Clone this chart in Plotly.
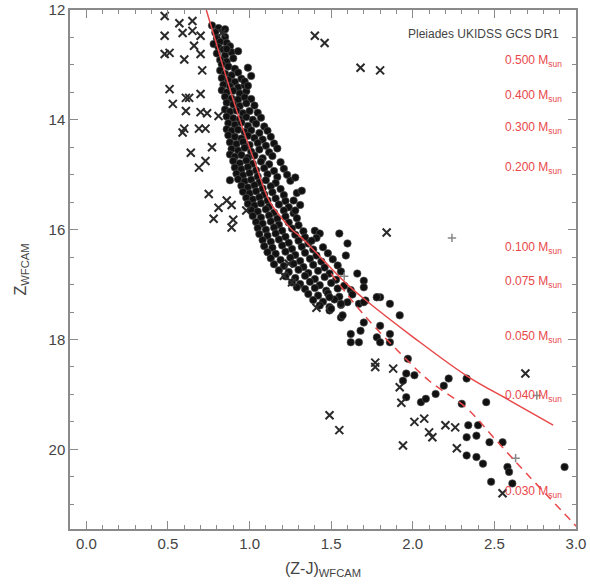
import plotly.graph_objects as go

# ---------------- data ----------------
# dense single-star sequence: (Z-J colour, Z mag) pairs
band_points = [
    (0.77, 12.28), (0.81, 12.33), (0.79, 12.41), (0.84, 12.38), (0.80, 12.52), (0.85, 12.49),
    (0.82, 12.58), (0.78, 12.62), (0.86, 12.60),
    (0.81, 12.68), (0.84, 12.72), (0.88, 12.66), (0.80, 12.79), (0.85, 12.83), (0.89, 12.77),
    (0.82, 12.91), (0.86, 12.94), (0.90, 12.88), (0.83, 12.99),
    (0.87, 13.03), (0.91, 13.07), (0.82, 13.10), (0.85, 13.16), (0.89, 13.19), (0.93, 13.14),
    (0.83, 13.24), (0.87, 13.28), (0.91, 13.31), (0.95, 13.25), (0.84, 13.36), (0.88, 13.39),
    (0.93, 13.41), (0.97, 13.37),
    (0.83, 13.46), (0.86, 13.50), (0.90, 13.47), (0.94, 13.52), (0.98, 13.48), (0.85, 13.58),
    (0.89, 13.61), (0.93, 13.63), (0.97, 13.59), (1.01, 13.62), (0.86, 13.69), (0.90, 13.72),
    (0.94, 13.75), (0.98, 13.70), (1.03, 13.74),
    (0.85, 13.81), (0.88, 13.85), (0.92, 13.83), (0.96, 13.88), (1.00, 13.84), (1.05, 13.87),
    (0.86, 13.94), (0.90, 13.97), (0.94, 13.99), (0.98, 13.95), (1.02, 14.00), (1.07, 13.96),
    (0.87, 14.06), (0.91, 14.09), (0.95, 14.05), (0.99, 14.11), (1.04, 14.07), (1.09, 14.12),
    (0.86, 14.17), (0.89, 14.20), (0.93, 14.18),
    (0.97, 14.22), (1.01, 14.19), (1.06, 14.24), (1.11, 14.20), (0.87, 14.28), (0.91, 14.31),
    (0.95, 14.34), (0.99, 14.29), (1.03, 14.33), (1.08, 14.36), (1.13, 14.31), (0.88, 14.41),
    (0.92, 14.44), (0.96, 14.40), (1.00, 14.46), (1.05, 14.42), (1.10, 14.47), (1.15, 14.43),
    (0.89, 14.53), (0.93, 14.56), (0.97, 14.51), (1.01, 14.58), (1.06, 14.54), (1.12, 14.59),
    (1.17, 14.52),
    (0.88, 14.63), (0.91, 14.67), (0.95, 14.64), (0.99, 14.69), (1.03, 14.65), (1.08, 14.70),
    (1.14, 14.66), (0.90, 14.75), (0.94, 14.79), (0.98, 14.74), (1.02, 14.80), (1.07, 14.76),
    (1.12, 14.81), (1.19, 14.77), (0.91, 14.87), (0.95, 14.90), (0.99, 14.86), (1.04, 14.92),
    (1.09, 14.88), (1.15, 14.93), (1.21, 14.89), (0.92, 14.98), (0.96, 15.01), (1.00, 14.97),
    (1.05, 15.03), (1.11, 14.99), (1.17, 15.04), (1.23, 15.00), (0.93, 15.08), (0.97, 15.12),
    (1.01, 15.09), (1.06, 15.14), (1.10, 15.10), (1.16, 15.15), (1.25, 15.11), (0.95, 15.20),
    (0.99, 15.23), (1.03, 15.19), (1.08, 15.25), (1.13, 15.21), (1.19, 15.26), (0.96, 15.31),
    (1.00, 15.34), (1.04, 15.30), (1.09, 15.36), (1.14, 15.32), (1.21, 15.37), (1.29, 15.33),
    (0.98, 15.42), (1.02, 15.45), (1.06, 15.41), (1.11, 15.47), (1.16, 15.43), (1.22, 15.48),
    (0.99, 15.53), (1.03, 15.56), (1.07, 15.52), (1.12, 15.58), (1.18, 15.54), (1.24, 15.59),
    (1.31, 15.55), (1.01, 15.64), (1.05, 15.67), (1.10, 15.63), (1.15, 15.69), (1.21, 15.65),
    (1.27, 15.70), (1.02, 15.75), (1.07, 15.78), (1.12, 15.74), (1.17, 15.80), (1.22, 15.76),
    (1.29, 15.79),
    (1.04, 15.86), (1.08, 15.89), (1.13, 15.85), (1.18, 15.91), (1.24, 15.87), (1.30, 15.92),
    (1.05, 15.97), (1.10, 16.00), (1.15, 15.96), (1.20, 16.02), (1.26, 15.98), (1.33, 16.03),
    (1.06, 16.08), (1.11, 16.11), (1.16, 16.07), (1.22, 16.13), (1.28, 16.09), (1.34, 16.14),
    (1.08, 16.19), (1.13, 16.22), (1.18, 16.18), (1.24, 16.24), (1.30, 16.20), (1.36, 16.25),
    (1.09, 16.30), (1.14, 16.33), (1.20, 16.29), (1.26, 16.35), (1.32, 16.31), (1.39, 16.36),
    (1.45, 16.32), (1.11, 16.41), (1.16, 16.44), (1.22, 16.40), (1.28, 16.46), (1.34, 16.42),
    (1.41, 16.47), (1.48, 16.43), (1.13, 16.52), (1.19, 16.55), (1.25, 16.51), (1.31, 16.57),
    (1.37, 16.53), (1.44, 16.58), (1.51, 16.54),
    (1.15, 16.63), (1.21, 16.66), (1.27, 16.62), (1.33, 16.68), (1.39, 16.64), (1.46, 16.69),
    (1.18, 16.74), (1.24, 16.77), (1.30, 16.73), (1.36, 16.79), (1.42, 16.75), (1.49, 16.80),
    (1.56, 16.76), (1.22, 16.85), (1.28, 16.88), (1.34, 16.84), (1.40, 16.90), (1.46, 16.86),
    (1.53, 16.91), (1.26, 16.96), (1.31, 16.99), (1.37, 16.95), (1.43, 17.01), (1.50, 16.97),
    (1.58, 17.02),
    (1.29, 17.05), (1.34, 17.08), (1.40, 17.06), (1.47, 17.11), (1.54, 17.07), (1.62, 17.10),
    (1.36, 17.17), (1.42, 17.20), (1.48, 17.16), (1.55, 17.22), (1.63, 17.18), (1.39, 17.28),
    (1.45, 17.31), (1.52, 17.27), (1.60, 17.32), (1.43, 17.38), (1.49, 17.41), (1.56, 17.37),
]

# isolated members (filled dots)
dot_color = [0.85, 0.86, 0.93, 0.99, 1.01, 0.97, 0.99, 0.88,
             1.28, 1.32, 1.27, 1.28, 1.40, 1.43, 1.41, 1.38, 1.55, 1.60, 1.59, 1.54,
             1.66, 1.70, 1.70, 1.80, 1.49, 1.56, 1.71, 1.78,
             1.49, 1.56, 1.50, 1.57, 1.67, 1.70, 1.78, 1.86, 1.92, 1.70, 1.80, 1.62,
             1.68, 1.62, 1.67, 1.78, 1.80, 1.86, 1.86, 1.97, 1.96, 2.01, 1.94, 1.96,
             2.05, 2.08, 2.14, 2.19, 2.22, 2.33, 2.30, 2.45, 2.34, 2.40, 2.33, 2.39,
             2.47, 2.55, 2.33, 2.39, 2.43, 2.58, 2.59, 2.48, 2.61, 2.93]
dot_mag = [12.35, 12.71, 12.75, 13.05, 13.20, 13.30, 13.38, 15.10,
           15.05, 15.29, 15.47, 15.65, 16.02, 16.07, 16.15, 16.20, 16.07, 16.25, 16.47, 16.65,
           16.80, 16.93, 17.05, 17.23, 17.47, 17.60, 17.29, 17.23,
           17.23, 17.35, 17.44, 17.56, 17.35, 17.32, 17.23, 17.35, 17.56, 17.69, 17.75, 17.90,
           17.84, 18.05, 18.05, 17.96, 18.05, 17.90, 18.05, 18.35, 18.62, 18.65, 18.75, 19.05,
           19.14, 19.08, 18.99, 18.84, 18.71, 18.71, 19.17, 19.14, 19.56, 19.56, 19.78, 19.75,
           19.87, 19.87, 20.11, 20.14, 20.26, 20.32, 20.41, 20.59, 20.62, 20.32]

# non-members / candidates (crosses)
cross_color = [0.48, 0.57, 0.65, 0.48, 0.59, 0.65, 0.70, 0.48, 0.51, 0.60, 0.66, 0.70,
               0.71, 0.83, 0.51, 0.53, 0.61, 0.63, 0.70, 0.61, 0.70, 0.74, 0.81, 0.60,
               0.59, 0.69, 0.73, 0.64, 0.77, 0.73, 0.69, 0.75, 0.86, 0.81, 0.89, 0.78,
               0.90, 0.89, 0.98, 1.21, 1.40, 1.46, 1.68, 1.80, 1.84, 1.49, 1.55, 1.94,
               2.69, 1.77, 1.77, 1.88, 1.92, 1.93, 2.01, 2.07, 2.10, 2.12, 2.20, 2.26,
               2.27, 1.41, 1.24, 1.26, 2.55]
cross_mag = [12.11, 12.24, 12.20, 12.47, 12.42, 12.38, 12.47, 12.80, 12.78, 12.90, 12.65, 12.80,
             13.10, 12.42, 13.44, 13.71, 13.60, 13.60, 13.53, 13.84, 13.86, 13.88, 13.93, 14.16,
             14.23, 14.16, 14.16, 14.60, 14.50, 14.75, 14.87, 15.35, 15.47, 15.60, 15.55, 15.80,
             15.82, 15.96, 15.65, 16.84, 12.47, 12.60, 13.05, 13.10, 16.05, 19.38, 19.65, 19.93,
             18.62, 18.50, 18.42, 18.53, 18.87, 19.15, 19.50, 19.44, 19.69, 19.78, 19.56, 19.60,
             19.98, 17.42, 16.62, 16.96, 20.80]

# faint grey points
faint_color = [2.24, 2.63, 2.76, 1.58]
faint_mag = [16.15, 20.16, 19.02, 16.85]

# isochrone (solid) and its extension (dashed)
iso_color = [0.735, 0.78, 0.84, 0.94, 1.03, 1.12, 1.20, 1.26, 1.32, 1.45, 1.60, 1.71, 2.00, 2.33, 2.60, 2.86]
iso_mag = [12.00, 12.44, 13.05, 14.00, 14.75, 15.47, 15.80, 16.00, 16.15, 16.55, 17.00, 17.28, 17.95, 18.66, 19.12, 19.56]
ext_color = [1.50, 1.70, 1.92, 2.10, 2.33, 2.50, 2.70, 2.97, 3.00]
ext_mag = [16.80, 17.55, 18.24, 18.75, 19.25, 19.80, 20.45, 21.30, 21.40]

# mass labels along the right edge
mass_labels = ["0.500", "0.400", "0.300", "0.200", "0.100", "0.075", "0.050", "0.040", "0.030"]
mass_mag = [12.93, 13.56, 14.14, 14.87, 16.33, 16.96, 17.96, 19.02, 20.78]

x_ticks = [0.0, 0.5, 1.0, 1.5, 2.0, 2.5, 3.0]
y_ticks = [12, 14, 16, 18, 20]

# ---------------- figure ----------------
band_color = [p[0] for p in band_points]
band_mag = [p[1] for p in band_points]

RED = "#e8484a"
FONT = "Liberation Sans, Arial, sans-serif"

fig = go.Figure()
fig.add_trace(go.Scatter(x=band_color + dot_color, y=band_mag + dot_mag, mode="markers",
                         marker=dict(symbol="circle", size=7.5, color="#111111",
                                     line=dict(width=0.6, color="#555555")),
                         showlegend=False, hoverinfo="skip"))
fig.add_trace(go.Scatter(x=cross_color, y=cross_mag, mode="markers",
                         marker=dict(symbol="x-thin", size=8, color="#222222",
                                     line=dict(width=2, color="#2a2a2a")),
                         showlegend=False, hoverinfo="skip"))
fig.add_trace(go.Scatter(x=faint_color, y=faint_mag, mode="markers",
                         marker=dict(symbol="cross-thin", size=6, color="#888888",
                                     line=dict(width=1.5, color="#888888")),
                         showlegend=False, hoverinfo="skip"))
fig.add_trace(go.Scatter(x=iso_color, y=iso_mag, mode="lines",
                         line=dict(color=RED, width=1.5, shape="spline"),
                         showlegend=False, hoverinfo="skip"))
fig.add_trace(go.Scatter(x=ext_color, y=ext_mag, mode="lines",
                         line=dict(color=RED, width=1.5, dash="8px,6px", shape="spline"),
                         showlegend=False, hoverinfo="skip"))

for lab, m in zip(mass_labels, mass_mag):
    fig.add_annotation(x=2.925, y=m, xref="x", yref="y", xanchor="right", yanchor="middle",
                       text=f"{lab} M<sub>sun</sub>", showarrow=False,
                       font=dict(family=FONT, size=12, color=RED))

fig.add_annotation(x=2.91, y=12.44, xref="x", yref="y", xanchor="right", yanchor="middle",
                   text="Pleiades UKIDSS GCS DR1", showarrow=False,
                   font=dict(family=FONT, size=12, color="#444444"))

axis_common = dict(showline=True, linecolor="#8a8a8a", linewidth=1.5, mirror="allticks",
                   ticks="inside", tickcolor="#8a8a8a", tickwidth=1.2, ticklen=8,
                   showgrid=False, zeroline=False, automargin=False,
                   tickfont=dict(family=FONT, size=15, color="#444444"))

fig.update_xaxes(range=[-0.1, 3.0], tickvals=x_ticks,
                 ticktext=[f"{v:.1f}" for v in x_ticks],
                 minor=dict(ticks="inside", dtick=0.1, ticklen=4, tickcolor="#8a8a8a"),
                 title=dict(text="(Z-J)<sub>WFCAM</sub>", font=dict(family=FONT, size=16, color="#444444"),
                            standoff=12),
                 **axis_common)
fig.update_yaxes(range=[21.45, 12.0], tickvals=y_ticks,
                 ticktext=[str(v) for v in y_ticks],
                 minor=dict(ticks="inside", dtick=0.5, ticklen=4, tickcolor="#8a8a8a"),
                 title=dict(text="Z<sub>WFCAM</sub>", font=dict(family=FONT, size=16, color="#444444"),
                            standoff=18),
                 **axis_common)

fig.update_layout(width=590, height=586, plot_bgcolor="white", paper_bgcolor="white",
                  margin=dict(l=70, r=14, t=10, b=57))

fig.write_html("out.html", config={"displayModeBar": False},
               post_script="document.body.style.margin='0';")
